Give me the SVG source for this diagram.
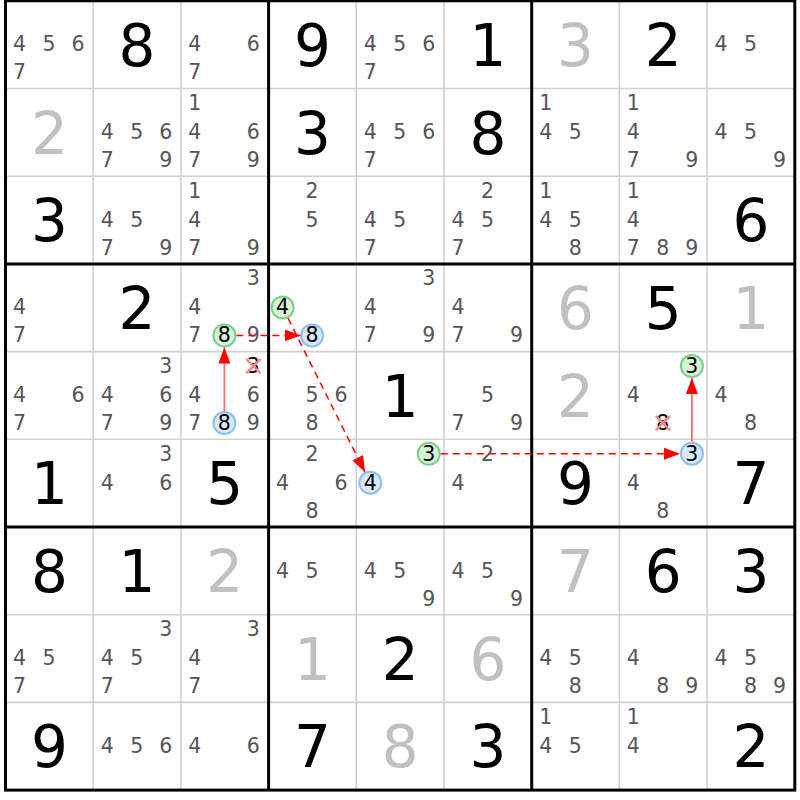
<svg xmlns="http://www.w3.org/2000/svg" width="800" height="800" viewBox="0 0 800 800">
<style>
text{font-family:"DejaVu Sans","Verdana",sans-serif;text-anchor:middle}
.c{font-size:20.5px;fill:#555555}
.h{font-size:20.5px;fill:#000}
.g{font-size:58px;fill:#000}
.s{font-size:58px;fill:#c0c0c0}
.gc{fill:#d6f3d6;stroke:#78d088;stroke-width:2}
.bc{fill:#d6e8fb;stroke:#8cbef0;stroke-width:2}
.x{stroke:#f08a8a;stroke-width:2.5;stroke-linecap:round}
.thin{stroke:#d0d0d0;stroke-width:1.6;fill:none}
.thick{stroke:#000;stroke-width:3;fill:none}
.dash{stroke:#ff0000;stroke-width:1.5;stroke-dasharray:7 5;fill:none}
.solid{stroke:#ff6a6a;stroke-width:1.8;fill:none}
</style>
<defs>
<marker id="ah" markerUnits="userSpaceOnUse" markerWidth="17" markerHeight="12" refX="16" refY="6" orient="auto">
<path d="M0,0 L16,6 L0,12 Z" fill="#ff0000"/>
</marker>
</defs>
<g id="grid">
<path class="thin" d="M93.2,0.8V790.1M180.9,0.8V790.1M356.3,0.8V790.1M444,0.8V790.1M619.4,0.8V790.1M707.1,0.8V790.1M5.5,88.5H794.8M5.5,176.2H794.8M5.5,351.6H794.8M5.5,439.3H794.8M5.5,614.7H794.8M5.5,702.4H794.8"/>
<path class="thick" d="M268.6,0.8V790.1M531.7,0.8V790.1M5.5,263.9H794.8M5.5,527H794.8"/>
<rect class="thick" x="5.5" y="0.8" width="789.3" height="789.3"/>
</g>
<g id="cells">
<g id="r1c1" transform="translate(5.5,0.8)"><text class="c" x="14" y="50.5">4</text><text class="c" x="43.5" y="50.5">5</text><text class="c" x="72.5" y="50.5">6</text><text class="c" x="14" y="78.5">7</text></g>
<g id="r1c2" transform="translate(93.2,0.8)"><text class="g" x="43.85" y="65">8</text></g>
<g id="r1c3" transform="translate(180.9,0.8)"><text class="c" x="14" y="50.5">4</text><text class="c" x="72.5" y="50.5">6</text><text class="c" x="14" y="78.5">7</text></g>
<g id="r1c4" transform="translate(268.6,0.8)"><text class="g" x="43.85" y="65">9</text></g>
<g id="r1c5" transform="translate(356.3,0.8)"><text class="c" x="14" y="50.5">4</text><text class="c" x="43.5" y="50.5">5</text><text class="c" x="72.5" y="50.5">6</text><text class="c" x="14" y="78.5">7</text></g>
<g id="r1c6" transform="translate(444,0.8)"><text class="g" x="43.85" y="65">1</text></g>
<g id="r1c7" transform="translate(531.7,0.8)"><text class="s" x="43.85" y="65">3</text></g>
<g id="r1c8" transform="translate(619.4,0.8)"><text class="g" x="43.85" y="65">2</text></g>
<g id="r1c9" transform="translate(707.1,0.8)"><text class="c" x="14" y="50.5">4</text><text class="c" x="43.5" y="50.5">5</text></g>

<g id="r2c1" transform="translate(5.5,88.5)"><text class="s" x="43.85" y="65">2</text></g>
<g id="r2c2" transform="translate(93.2,88.5)"><text class="c" x="14" y="50.5">4</text><text class="c" x="43.5" y="50.5">5</text><text class="c" x="72.5" y="50.5">6</text><text class="c" x="14" y="78.5">7</text><text class="c" x="72.5" y="78.5">9</text></g>
<g id="r2c3" transform="translate(180.9,88.5)"><text class="c" x="14" y="21.5">1</text><text class="c" x="14" y="50.5">4</text><text class="c" x="72.5" y="50.5">6</text><text class="c" x="14" y="78.5">7</text><text class="c" x="72.5" y="78.5">9</text></g>
<g id="r2c4" transform="translate(268.6,88.5)"><text class="g" x="43.85" y="65">3</text></g>
<g id="r2c5" transform="translate(356.3,88.5)"><text class="c" x="14" y="50.5">4</text><text class="c" x="43.5" y="50.5">5</text><text class="c" x="72.5" y="50.5">6</text><text class="c" x="14" y="78.5">7</text></g>
<g id="r2c6" transform="translate(444,88.5)"><text class="g" x="43.85" y="65">8</text></g>
<g id="r2c7" transform="translate(531.7,88.5)"><text class="c" x="14" y="21.5">1</text><text class="c" x="14" y="50.5">4</text><text class="c" x="43.5" y="50.5">5</text></g>
<g id="r2c8" transform="translate(619.4,88.5)"><text class="c" x="14" y="21.5">1</text><text class="c" x="14" y="50.5">4</text><text class="c" x="14" y="78.5">7</text><text class="c" x="72.5" y="78.5">9</text></g>
<g id="r2c9" transform="translate(707.1,88.5)"><text class="c" x="14" y="50.5">4</text><text class="c" x="43.5" y="50.5">5</text><text class="c" x="72.5" y="78.5">9</text></g>

<g id="r3c1" transform="translate(5.5,176.2)"><text class="g" x="43.85" y="65">3</text></g>
<g id="r3c2" transform="translate(93.2,176.2)"><text class="c" x="14" y="50.5">4</text><text class="c" x="43.5" y="50.5">5</text><text class="c" x="14" y="78.5">7</text><text class="c" x="72.5" y="78.5">9</text></g>
<g id="r3c3" transform="translate(180.9,176.2)"><text class="c" x="14" y="21.5">1</text><text class="c" x="14" y="50.5">4</text><text class="c" x="14" y="78.5">7</text><text class="c" x="72.5" y="78.5">9</text></g>
<g id="r3c4" transform="translate(268.6,176.2)"><text class="c" x="43.5" y="21.5">2</text><text class="c" x="43.5" y="50.5">5</text></g>
<g id="r3c5" transform="translate(356.3,176.2)"><text class="c" x="14" y="50.5">4</text><text class="c" x="43.5" y="50.5">5</text><text class="c" x="14" y="78.5">7</text></g>
<g id="r3c6" transform="translate(444,176.2)"><text class="c" x="43.5" y="21.5">2</text><text class="c" x="14" y="50.5">4</text><text class="c" x="43.5" y="50.5">5</text><text class="c" x="14" y="78.5">7</text></g>
<g id="r3c7" transform="translate(531.7,176.2)"><text class="c" x="14" y="21.5">1</text><text class="c" x="14" y="50.5">4</text><text class="c" x="43.5" y="50.5">5</text><text class="c" x="43.5" y="78.5">8</text></g>
<g id="r3c8" transform="translate(619.4,176.2)"><text class="c" x="14" y="21.5">1</text><text class="c" x="14" y="50.5">4</text><text class="c" x="14" y="78.5">7</text><text class="c" x="43.5" y="78.5">8</text><text class="c" x="72.5" y="78.5">9</text></g>
<g id="r3c9" transform="translate(707.1,176.2)"><text class="g" x="43.85" y="65">6</text></g>

<g id="r4c1" transform="translate(5.5,263.9)"><text class="c" x="14" y="50.5">4</text><text class="c" x="14" y="78.5">7</text></g>
<g id="r4c2" transform="translate(93.2,263.9)"><text class="g" x="43.85" y="65">2</text></g>
<g id="r4c3" transform="translate(180.9,263.9)"><text class="c" x="72.5" y="21.5">3</text><text class="c" x="14" y="50.5">4</text><text class="c" x="14" y="78.5">7</text><circle class="gc" cx="43.5" cy="71.5" r="11"/><text class="h" x="43.5" y="78.5">8</text><text class="c" x="72.5" y="78.5">9</text></g>
<g id="r4c4" transform="translate(268.6,263.9)"><circle class="gc" cx="14" cy="43.5" r="11"/><text class="h" x="14" y="50.5">4</text><circle class="bc" cx="43.5" cy="71.5" r="11"/><text class="h" x="43.5" y="78.5">8</text></g>
<g id="r4c5" transform="translate(356.3,263.9)"><text class="c" x="72.5" y="21.5">3</text><text class="c" x="14" y="50.5">4</text><text class="c" x="14" y="78.5">7</text><text class="c" x="72.5" y="78.5">9</text></g>
<g id="r4c6" transform="translate(444,263.9)"><text class="c" x="14" y="50.5">4</text><text class="c" x="14" y="78.5">7</text><text class="c" x="72.5" y="78.5">9</text></g>
<g id="r4c7" transform="translate(531.7,263.9)"><text class="s" x="43.85" y="65">6</text></g>
<g id="r4c8" transform="translate(619.4,263.9)"><text class="g" x="43.85" y="65">5</text></g>
<g id="r4c9" transform="translate(707.1,263.9)"><text class="s" x="43.85" y="65">1</text></g>

<g id="r5c1" transform="translate(5.5,351.6)"><text class="c" x="14" y="50.5">4</text><text class="c" x="72.5" y="50.5">6</text><text class="c" x="14" y="78.5">7</text></g>
<g id="r5c2" transform="translate(93.2,351.6)"><text class="c" x="72.5" y="21.5">3</text><text class="c" x="14" y="50.5">4</text><text class="c" x="72.5" y="50.5">6</text><text class="c" x="14" y="78.5">7</text><text class="c" x="72.5" y="78.5">9</text></g>
<g id="r5c3" transform="translate(180.9,351.6)"><text class="h" x="72.5" y="21.5">3</text><path class="x" d="M66,8L79,21M79,8L66,21"/><text class="c" x="14" y="50.5">4</text><text class="c" x="72.5" y="50.5">6</text><text class="c" x="14" y="78.5">7</text><circle class="bc" cx="43.5" cy="71.5" r="11"/><text class="h" x="43.5" y="78.5">8</text><text class="c" x="72.5" y="78.5">9</text></g>
<g id="r5c4" transform="translate(268.6,351.6)"><text class="c" x="43.5" y="50.5">5</text><text class="c" x="72.5" y="50.5">6</text><text class="c" x="43.5" y="78.5">8</text></g>
<g id="r5c5" transform="translate(356.3,351.6)"><text class="g" x="43.85" y="65">1</text></g>
<g id="r5c6" transform="translate(444,351.6)"><text class="c" x="43.5" y="50.5">5</text><text class="c" x="14" y="78.5">7</text><text class="c" x="72.5" y="78.5">9</text></g>
<g id="r5c7" transform="translate(531.7,351.6)"><text class="s" x="43.85" y="65">2</text></g>
<g id="r5c8" transform="translate(619.4,351.6)"><circle class="gc" cx="72.5" cy="14.5" r="11"/><text class="h" x="72.5" y="21.5">3</text><text class="c" x="14" y="50.5">4</text><text class="h" x="43.5" y="78.5">8</text><path class="x" d="M37,65L50,78M50,65L37,78"/></g>
<g id="r5c9" transform="translate(707.1,351.6)"><text class="c" x="14" y="50.5">4</text><text class="c" x="43.5" y="78.5">8</text></g>

<g id="r6c1" transform="translate(5.5,439.3)"><text class="g" x="43.85" y="65">1</text></g>
<g id="r6c2" transform="translate(93.2,439.3)"><text class="c" x="72.5" y="21.5">3</text><text class="c" x="14" y="50.5">4</text><text class="c" x="72.5" y="50.5">6</text></g>
<g id="r6c3" transform="translate(180.9,439.3)"><text class="g" x="43.85" y="65">5</text></g>
<g id="r6c4" transform="translate(268.6,439.3)"><text class="c" x="43.5" y="21.5">2</text><text class="c" x="14" y="50.5">4</text><text class="c" x="72.5" y="50.5">6</text><text class="c" x="43.5" y="78.5">8</text></g>
<g id="r6c5" transform="translate(356.3,439.3)"><circle class="gc" cx="72.5" cy="14.5" r="11"/><text class="h" x="72.5" y="21.5">3</text><circle class="bc" cx="14" cy="43.5" r="11"/><text class="h" x="14" y="50.5">4</text></g>
<g id="r6c6" transform="translate(444,439.3)"><text class="c" x="43.5" y="21.5">2</text><text class="c" x="14" y="50.5">4</text></g>
<g id="r6c7" transform="translate(531.7,439.3)"><text class="g" x="43.85" y="65">9</text></g>
<g id="r6c8" transform="translate(619.4,439.3)"><circle class="bc" cx="72.5" cy="14.5" r="11"/><text class="h" x="72.5" y="21.5">3</text><text class="c" x="14" y="50.5">4</text><text class="c" x="43.5" y="78.5">8</text></g>
<g id="r6c9" transform="translate(707.1,439.3)"><text class="g" x="43.85" y="65">7</text></g>

<g id="r7c1" transform="translate(5.5,527)"><text class="g" x="43.85" y="65">8</text></g>
<g id="r7c2" transform="translate(93.2,527)"><text class="g" x="43.85" y="65">1</text></g>
<g id="r7c3" transform="translate(180.9,527)"><text class="s" x="43.85" y="65">2</text></g>
<g id="r7c4" transform="translate(268.6,527)"><text class="c" x="14" y="50.5">4</text><text class="c" x="43.5" y="50.5">5</text></g>
<g id="r7c5" transform="translate(356.3,527)"><text class="c" x="14" y="50.5">4</text><text class="c" x="43.5" y="50.5">5</text><text class="c" x="72.5" y="78.5">9</text></g>
<g id="r7c6" transform="translate(444,527)"><text class="c" x="14" y="50.5">4</text><text class="c" x="43.5" y="50.5">5</text><text class="c" x="72.5" y="78.5">9</text></g>
<g id="r7c7" transform="translate(531.7,527)"><text class="s" x="43.85" y="65">7</text></g>
<g id="r7c8" transform="translate(619.4,527)"><text class="g" x="43.85" y="65">6</text></g>
<g id="r7c9" transform="translate(707.1,527)"><text class="g" x="43.85" y="65">3</text></g>

<g id="r8c1" transform="translate(5.5,614.7)"><text class="c" x="14" y="50.5">4</text><text class="c" x="43.5" y="50.5">5</text><text class="c" x="14" y="78.5">7</text></g>
<g id="r8c2" transform="translate(93.2,614.7)"><text class="c" x="72.5" y="21.5">3</text><text class="c" x="14" y="50.5">4</text><text class="c" x="43.5" y="50.5">5</text><text class="c" x="14" y="78.5">7</text></g>
<g id="r8c3" transform="translate(180.9,614.7)"><text class="c" x="72.5" y="21.5">3</text><text class="c" x="14" y="50.5">4</text><text class="c" x="14" y="78.5">7</text></g>
<g id="r8c4" transform="translate(268.6,614.7)"><text class="s" x="43.85" y="65">1</text></g>
<g id="r8c5" transform="translate(356.3,614.7)"><text class="g" x="43.85" y="65">2</text></g>
<g id="r8c6" transform="translate(444,614.7)"><text class="s" x="43.85" y="65">6</text></g>
<g id="r8c7" transform="translate(531.7,614.7)"><text class="c" x="14" y="50.5">4</text><text class="c" x="43.5" y="50.5">5</text><text class="c" x="43.5" y="78.5">8</text></g>
<g id="r8c8" transform="translate(619.4,614.7)"><text class="c" x="14" y="50.5">4</text><text class="c" x="43.5" y="78.5">8</text><text class="c" x="72.5" y="78.5">9</text></g>
<g id="r8c9" transform="translate(707.1,614.7)"><text class="c" x="14" y="50.5">4</text><text class="c" x="43.5" y="50.5">5</text><text class="c" x="43.5" y="78.5">8</text><text class="c" x="72.5" y="78.5">9</text></g>

<g id="r9c1" transform="translate(5.5,702.4)"><text class="g" x="43.85" y="65">9</text></g>
<g id="r9c2" transform="translate(93.2,702.4)"><text class="c" x="14" y="50.5">4</text><text class="c" x="43.5" y="50.5">5</text><text class="c" x="72.5" y="50.5">6</text></g>
<g id="r9c3" transform="translate(180.9,702.4)"><text class="c" x="14" y="50.5">4</text><text class="c" x="72.5" y="50.5">6</text></g>
<g id="r9c4" transform="translate(268.6,702.4)"><text class="g" x="43.85" y="65">7</text></g>
<g id="r9c5" transform="translate(356.3,702.4)"><text class="s" x="43.85" y="65">8</text></g>
<g id="r9c6" transform="translate(444,702.4)"><text class="g" x="43.85" y="65">3</text></g>
<g id="r9c7" transform="translate(531.7,702.4)"><text class="c" x="14" y="21.5">1</text><text class="c" x="14" y="50.5">4</text><text class="c" x="43.5" y="50.5">5</text></g>
<g id="r9c8" transform="translate(619.4,702.4)"><text class="c" x="14" y="21.5">1</text><text class="c" x="14" y="50.5">4</text></g>
<g id="r9c9" transform="translate(707.1,702.4)"><text class="g" x="43.85" y="65">2</text></g>
</g>
<g id="connectors">
<line class="dash" x1="236.4" y1="335.4" x2="300.6" y2="335.4" marker-end="url(#ah)"/>
<line class="dash" x1="288" y1="318.1" x2="364.9" y2="472.1" marker-end="url(#ah)"/>
<line class="solid" x1="224.4" y1="411" x2="224.4" y2="347.5" marker-end="url(#ah)"/>
<line class="dash" x1="440.8" y1="453.8" x2="680" y2="453.8" marker-end="url(#ah)"/>
<line class="solid" x1="691.9" y1="441.8" x2="691.9" y2="378" marker-end="url(#ah)"/>
</g>
</svg>
